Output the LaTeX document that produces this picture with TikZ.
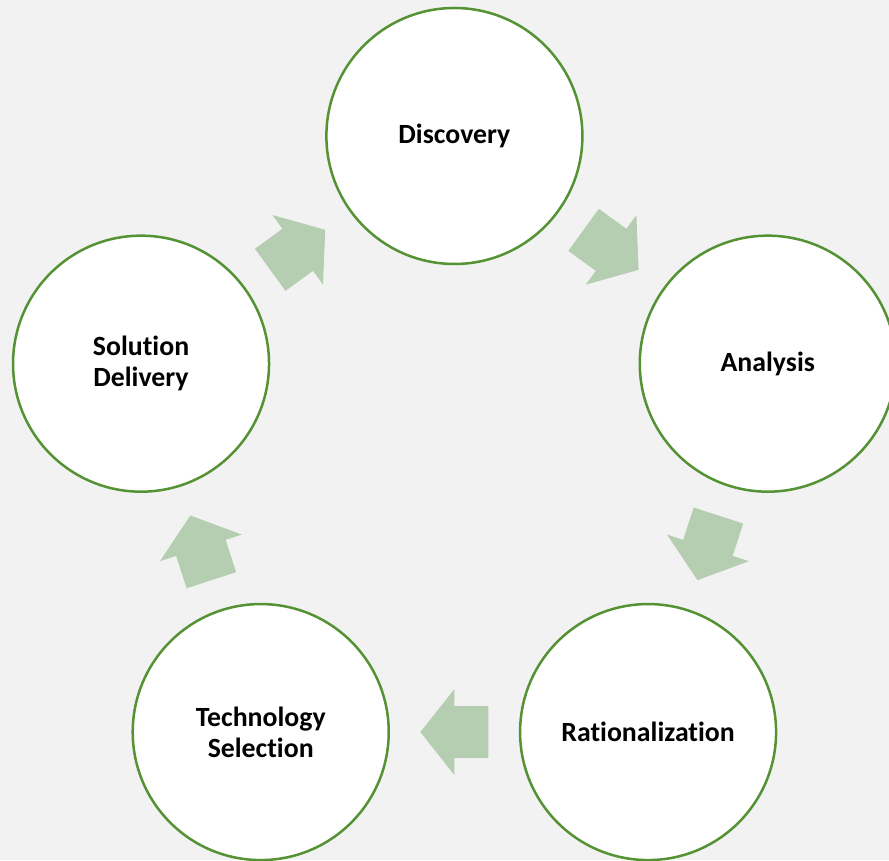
\documentclass[tikz,border=0pt]{standalone}
\usepackage{fontspec}
\setmainfont{Carlito}[Ligatures=NoCommon]
\usetikzlibrary{calc}
\definecolor{bgc}{RGB}{242,242,242}
\definecolor{ringc}{RGB}{84,146,52}
\definecolor{arrc}{RGB}{181,205,176}
\tikzset{
  stage/.style={circle, draw=ringc, line width=2.5pt, fill=white, minimum size=256pt, inner sep=0pt,
    font=\fontsize{27.8}{30.8}\selectfont\bfseries, align=center, text=black},
  stagetext/.style={yshift=-1.5pt},
  cyclearrow/.style={fill=arrc, draw=none}
}
\newcommand{\cyclearr}[2]{%
  \fill[cyclearrow, shift={(#1)}, rotate=#2]
    (-34pt,26pt) -- (0pt,26pt) -- (0pt,43pt) -- (34pt,0pt) -- (0pt,-43pt) -- (0pt,-26pt) -- (-34pt,-26pt) -- cycle;}
\begin{document}
\begin{tikzpicture}[x=1pt,y=1pt]
\useasboundingbox (0,0) rectangle (889,860);
\clip (0,0) rectangle (889,860);
\fill[bgc] (0,0) rectangle (889,860);
\begin{scope}[shift={(454.4,394.5)}]
  \node[stage] (disc) at (90:329.5) {\raisebox{-1.5pt}{Discovery}};
  \node[stage] (anal) at (18:329.5) {\raisebox{-1.5pt}{Analysis}};
  \node[stage] (rat) at (-54:329.5) {\raisebox{-1.5pt}{Rationalization}};
  \node[stage] (tech) at (-126:329.5) {Technology\\Selection};
  \node[stage] (sol) at (162:329.5) {Solution\\Delivery};
\end{scope}
\coordinate (m1) at ($(disc.center)!0.5!(anal.center)$);
\coordinate (m2) at ($(anal.center)!0.5!(rat.center)$);
\coordinate (m3) at ($(rat.center)!0.5!(tech.center)$);
\coordinate (m4) at ($(tech.center)!0.5!(sol.center)$);
\coordinate (m5) at ($(sol.center)!0.5!(disc.center)$);
\cyclearr{m1}{-36}
\cyclearr{m2}{-108}
\cyclearr{m3}{180}
\cyclearr{m4}{108}
\cyclearr{m5}{36}
\end{tikzpicture}
\end{document}
